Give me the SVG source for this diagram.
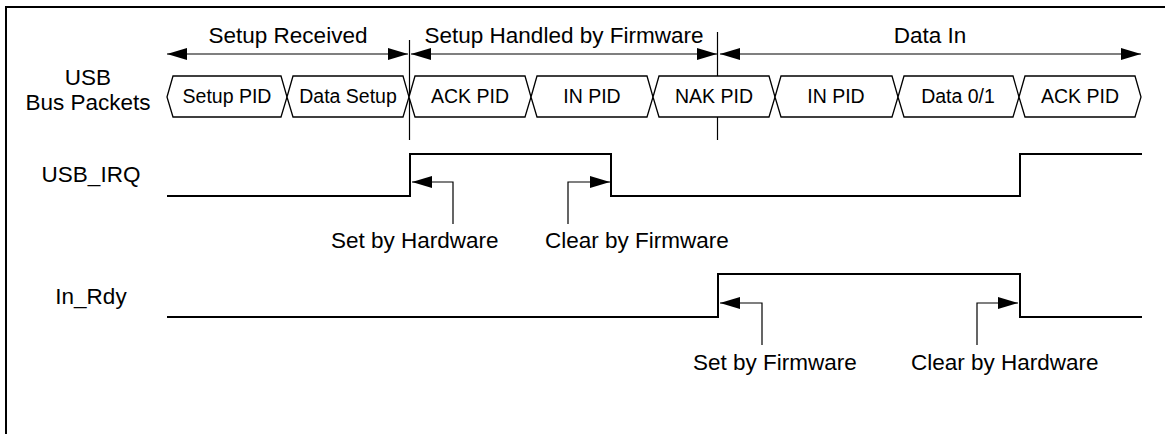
<svg xmlns="http://www.w3.org/2000/svg" width="1165" height="434" viewBox="0 0 1165 434">
<style>
text{font-family:"Liberation Sans",Arial,sans-serif;fill:#000}
.t{font-size:22.5px}
.p{font-size:19.5px;text-anchor:middle}
.c{text-anchor:middle}
.hex{fill:#fff;stroke:#000;stroke-width:1.3}
.wave{fill:none;stroke:#000;stroke-width:2}
.thin{fill:none;stroke:#000;stroke-width:1.2}
</style>
<defs>
<marker id="ah" viewBox="0 0 20 12" refX="20" refY="6" markerWidth="20" markerHeight="12" markerUnits="userSpaceOnUse" orient="auto-start-reverse">
<path d="M0,0 L20,6 L0,12 Z" fill="#000"/>
</marker>
</defs>
<rect width="1165" height="434" fill="#fff"/>
<path d="M6,434 V7 H1165" fill="none" stroke="#000" stroke-width="2"/>

<g id="phases">
<text class="t c" x="288" y="43">Setup Received</text>
<text class="t c" x="564" y="43">Setup Handled by Firmware</text>
<text class="t c" x="930" y="43">Data In</text>
</g>

<g id="labels">
<text class="t c" x="88" y="85">USB</text>
<text class="t c" x="88" y="110">Bus Packets</text>
<text class="t c" x="91" y="182">USB_IRQ</text>
<text class="t c" x="91" y="304">In_Rdy</text>
</g>

<g id="separators">
<line class="thin" x1="409.5" y1="40" x2="409.5" y2="140"/>
<line class="thin" x1="717.5" y1="32" x2="717.5" y2="140"/>
</g>

<g id="packets">
<g id="pkt1"><path class="hex" d="M167,97 L173,76 H281 L287,97 L281,117 H173 Z"/><text class="p" x="227" y="103">Setup PID</text></g>
<g id="pkt2"><path class="hex" d="M287,97 L293,76 H403 L409,97 L403,117 H293 Z"/><text class="p" x="348" y="103">Data Setup</text></g>
<g id="pkt3"><path class="hex" d="M409,97 L415,76 H525 L531,97 L525,117 H415 Z"/><text class="p" x="470" y="103">ACK PID</text></g>
<g id="pkt4"><path class="hex" d="M531,97 L537,76 H647 L653,97 L647,117 H537 Z"/><text class="p" x="592" y="103">IN PID</text></g>
<g id="pkt5"><path class="hex" d="M653,97 L659,76 H769 L775,97 L769,117 H659 Z"/><text class="p" x="714" y="103">NAK PID</text></g>
<g id="pkt6"><path class="hex" d="M775,97 L781,76 H892 L898,97 L892,117 H781 Z"/><text class="p" x="836" y="103">IN PID</text></g>
<g id="pkt7"><path class="hex" d="M898,97 L904,76 H1013 L1019,97 L1013,117 H904 Z"/><text class="p" x="958" y="103">Data 0/1</text></g>
<g id="pkt8"><path class="hex" d="M1019,97 L1025,76 H1135 L1141,97 L1135,117 H1025 Z"/><text class="p" x="1080" y="103">ACK PID</text></g>
</g>

<g id="usb_irq">
<path class="wave" d="M167,196 H410 V154 H611 V196 H1020 V154 H1142"/>
</g>

<g id="in_rdy">
<path class="wave" d="M167,317 H718 V274 H1020 V317 H1142"/>
</g>

<g id="notes">
<text class="t" x="331" y="248">Set by Hardware</text>
<text class="t" x="545" y="248">Clear by Firmware</text>
<text class="t" x="693" y="370">Set by Firmware</text>
<text class="t" x="911" y="370">Clear by Hardware</text>
</g>

<g id="connectors">
<line class="thin" x1="167" y1="54" x2="408" y2="54" marker-start="url(#ah)" marker-end="url(#ah)"/>
<line class="thin" x1="411" y1="54" x2="717" y2="54" marker-start="url(#ah)" marker-end="url(#ah)"/>
<line class="thin" x1="720" y1="54" x2="1141" y2="54" marker-start="url(#ah)" marker-end="url(#ah)"/>
<path class="thin" d="M453,224 V182 H412" marker-end="url(#ah)"/>
<path class="thin" d="M568,224 V182 H610" marker-end="url(#ah)"/>
<path class="thin" d="M762,345 V303 H720" marker-end="url(#ah)"/>
<path class="thin" d="M977,345 V303 H1018" marker-end="url(#ah)"/>
</g>
</svg>
